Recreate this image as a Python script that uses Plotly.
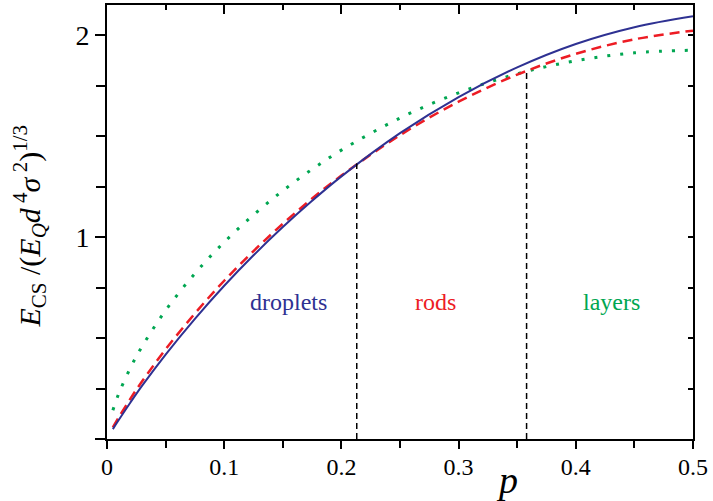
import plotly.graph_objects as go

# ---- data ----
p = [0.005, 0.01, 0.02, 0.03, 0.05, 0.075, 0.1, 0.125, 0.15, 0.175, 0.2,
     0.25, 0.3, 0.35, 0.4, 0.45, 0.5]
droplets = [0.049, 0.094, 0.181, 0.264, 0.418, 0.595, 0.759, 0.910, 1.050,
            1.180, 1.301, 1.515, 1.694, 1.841, 1.957, 2.040, 2.094]
rods = [0.057, 0.107, 0.200, 0.286, 0.444, 0.622, 0.784, 0.931, 1.066,
        1.191, 1.305, 1.505, 1.671, 1.805, 1.908, 1.980, 2.023]
layers = [0.142, 0.224, 0.353, 0.459, 0.637, 0.820, 0.975, 1.110, 1.230,
          1.336, 1.431, 1.590, 1.715, 1.809, 1.874, 1.913, 1.926]

transition_p = [0.2131, 0.358]
transition_E = [1.365, 1.82]

x_ticks = [0, 0.1, 0.2, 0.3, 0.4, 0.5]
x_ticktext = ["0", "0.1", "0.2", "0.3", "0.4", "0.5"]
y_ticks = [0, 1, 2]
y_ticktext = ["", "1", "2"]

BLUE = "#2E3192"
RED = "#ED1C24"
GREEN = "#00A651"
SERIF = "Liberation Serif"

fig = go.Figure()

fig.add_trace(go.Scatter(x=p, y=layers, mode="lines", line_shape="spline",
                         line=dict(color=GREEN, width=3, dash="3px,10px"),
                         showlegend=False))
fig.add_trace(go.Scatter(x=p, y=rods, mode="lines", line_shape="spline",
                         line=dict(color=RED, width=2.5, dash="10px,6px"),
                         showlegend=False))
fig.add_trace(go.Scatter(x=p, y=droplets, mode="lines", line_shape="spline",
                         line=dict(color=BLUE, width=2),
                         showlegend=False))

for tp, te in zip(transition_p, transition_E):
    fig.add_trace(go.Scatter(x=[tp, tp], y=[0, te], mode="lines",
                             line=dict(color="black", width=1.5, dash="6px,4px"),
                             showlegend=False))

# invisible trace for mirrored axes
fig.add_trace(go.Scatter(x=[0], y=[0], xaxis="x2", yaxis="y2", mode="markers",
                         marker=dict(opacity=0), showlegend=False, hoverinfo="skip"))

axis_common = dict(showgrid=False, zeroline=False, showline=True,
                   linecolor="black", linewidth=2, tickcolor="black", tickwidth=1.5)

fig.update_layout(
    width=713, height=501,
    margin=dict(l=107, r=20, t=5, b=62),
    plot_bgcolor="white", paper_bgcolor="white",
    font=dict(family=SERIF, color="black"),
    xaxis=dict(range=[0, 0.5], ticks="outside", ticklen=8,
               tickvals=x_ticks, ticktext=x_ticktext,
               tickfont=dict(family=SERIF, size=24), ticklabelstandoff=-3,
               minor=dict(dtick=0.05, tick0=0, ticks="outside", ticklen=7,
                          tickcolor="black", tickwidth=1.5),
               **axis_common),
    xaxis2=dict(range=[0, 0.5], overlaying="x", side="top", ticks="inside",
                ticklen=9, tickvals=x_ticks, showticklabels=False,
                minor=dict(dtick=0.05, tick0=0, ticks="inside", ticklen=5,
                           tickcolor="black", tickwidth=1.5),
                anchor="y", **axis_common),
    yaxis=dict(range=[0, 2.15], ticks="outside", ticklen=10,
               tickvals=y_ticks, ticktext=y_ticktext,
               tickfont=dict(family=SERIF, size=28),
               minor=dict(dtick=0.25, tick0=0, ticks="outside", ticklen=9,
                          tickcolor="black", tickwidth=1.5),
               **axis_common),
    yaxis2=dict(range=[0, 2.15], overlaying="y", side="right", ticks="inside",
                ticklen=5, tickvals=y_ticks, showticklabels=False,
                minor=dict(dtick=0.25, tick0=0, ticks="inside", ticklen=5,
                           tickcolor="black", tickwidth=1.5),
                anchor="x", **axis_common),
)

annotations = [
    dict(text="droplets", x=0.155, y=0.68, font=dict(color=BLUE, size=24, family=SERIF)),
    dict(text="rods", x=0.2807, y=0.68, font=dict(color=RED, size=24, family=SERIF)),
    dict(text="layers", x=0.4303, y=0.68, font=dict(color=GREEN, size=24, family=SERIF)),
]
for a in annotations:
    fig.add_annotation(xref="x", yref="y", showarrow=False, **a)

fig.add_annotation(text="<i>p</i>", xref="paper", yref="paper",
                   x=(520 - 107) / 586, y=-(503 - 439) / 434,
                   showarrow=False, font=dict(size=38, family=SERIF))
fig.add_annotation(
    text="<i>E</i><sub>CS</sub> /(<i>E</i><sub><i>Q</i></sub><i>d</i><sup> 4</sup><i>σ</i><sup> 2</sup>)<sup>1/3</sup>",
    xref="paper", yref="paper", x=-(107 - 6) / 586, y=(439 - 227) / 434,
    textangle=-90, showarrow=False, font=dict(size=30, family=SERIF))

fig.write_html("out.html", config={"displayModeBar": False},
               post_script="document.body.style.margin='0px';document.body.style.overflow='hidden';")
